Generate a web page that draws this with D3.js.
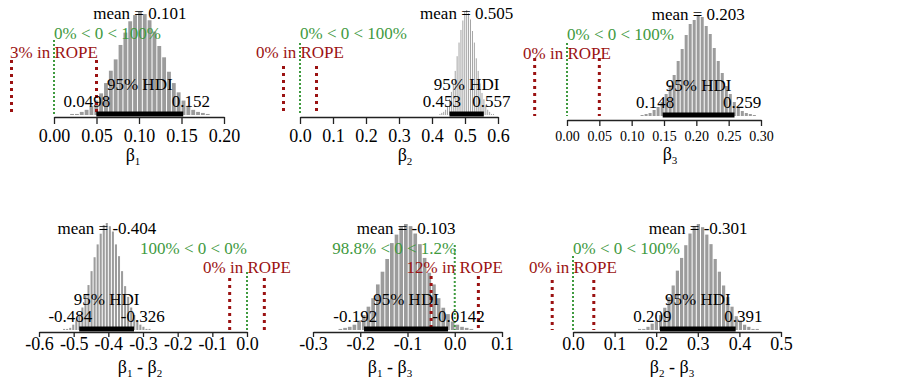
<!DOCTYPE html>
<html>
<head>
<meta charset="utf-8">
<script src="https://cdn.jsdelivr.net/npm/d3@7"></script>
<style>
body { margin: 0; background: #fff; }
svg text { font-family: "Liberation Serif", "DejaVu Serif", "Times New Roman", serif; }
</style>
</head>
<body>
<script>
// ---- data ----
const paramNames = [['1'], ['2'], ['3'], ['1', '2'], ['1', '3'], ['2', '3']]
const meanLabels = ['0.101', '0.505', '0.203', '-0.404', '-0.103', '-0.301']
const hdiLow = [0.0498, 0.453, 0.148, -0.484, -0.192, 0.209]
const hdiHigh = [0.152, 0.557, 0.259, -0.326, -0.0142, 0.391]
const pctBelow = ['0', '0', '0', '100', '98.8', '0']
const pctAbove = ['100', '100', '100', '0', '1.2', '100']
const pctInRope = ['3', '0', '0', '0', '12', '0']
const compVal = 0
const rope = [-0.05, 0.05]

const tickSets = [
  [0, 0.05, 0.10, 0.15, 0.20],
  [0, 0.1, 0.2, 0.3, 0.4, 0.5, 0.6],
  [0, 0.05, 0.10, 0.15, 0.20, 0.25, 0.30],
  [-0.6, -0.5, -0.4, -0.3, -0.2, -0.1, 0],
  [-0.3, -0.2, -0.1, 0, 0.1],
  [0, 0.1, 0.2, 0.3, 0.4, 0.5]
]
const tickDecimals = [2, 1, 2, 1, 1, 1]

// histogram bins: left edge of first bin, bin width, bar heights (% of tallest)
const binStarts = [0.0184, 0.421, 0.113, -0.532, -0.247, 0.155]
const binWidths = [0.0057, 0.0058, 0.0062, 0.0088, 0.0099, 0.0101]
const binCounts = [
  [1, 1, 3, 5, 9, 14, 21, 31, 43, 54, 68, 80, 91, 97, 100, 98, 92, 81, 67, 56, 42, 31, 22, 14, 9, 5, 3, 2, 1],
  [1, 2, 3, 5, 8, 15, 22, 30, 42, 56, 69, 81, 90, 98, 100, 97, 91, 80, 69, 54, 42, 30, 21, 15, 9, 5, 3, 1, 1],
  [1, 2, 3, 6, 9, 14, 22, 31, 41, 55, 67, 81, 92, 96, 100, 99, 90, 82, 68, 55, 43, 30, 22, 14, 8, 5, 3, 2, 1],
  [1, 1, 2, 5, 9, 15, 21, 32, 42, 55, 68, 80, 90, 98, 100, 97, 92, 80, 69, 55, 41, 31, 21, 14, 9, 5, 3, 1, 1],
  [1, 2, 3, 5, 9, 14, 22, 30, 43, 55, 67, 82, 90, 97, 100, 98, 91, 81, 68, 54, 43, 30, 21, 15, 8, 5, 3, 2, 1],
  [1, 1, 3, 6, 9, 14, 21, 31, 42, 56, 68, 80, 91, 98, 100, 97, 90, 81, 67, 55, 42, 31, 22, 13, 9, 5, 3, 1, 1]
]

// ---- layout (pixels) ----
const layout = [
  { x0: 54, x1: 224, base: 115, peak: 12, axisY: 117, tickSize: 7, pad: 5, tickFont: 18, titleX: 133, titleY: 161, greenTop: 40, redTop: 60 },
  { x0: 300, x1: 498, base: 115, peak: 10, axisY: 117, tickSize: 7, pad: 5, tickFont: 18, titleX: 405, titleY: 161, greenTop: 43, redTop: 66 },
  { x0: 567, x1: 761, base: 116, peak: 16, axisY: 120, tickSize: 6, pad: 5, tickFont: 14, titleX: 670, titleY: 160, greenTop: 43, redTop: 58 },
  { x0: 39, x1: 247, base: 330, peak: 223, axisY: 332, tickSize: 5, pad: 0, tickFont: 18, titleX: 140, titleY: 373, greenTop: 272, redTop: 278 },
  { x0: 313, x1: 502, base: 330, peak: 224, axisY: 332, tickSize: 5, pad: 0, tickFont: 18, titleX: 390, titleY: 373, greenTop: 245, redTop: 276 },
  { x0: 573, x1: 781, base: 330, peak: 224, axisY: 332, tickSize: 5, pad: 0, tickFont: 18, titleX: 672, titleY: 373, greenTop: 256, redTop: 280 }
]

const barCol = '#9c9c9c'
const green = '#3f9a3f'
const red = '#9b1212'

const svg = d3.select(document.body).append('svg')
  .attr('width', 903)
  .attr('height', 383)
  .attr('xmlns', 'http://www.w3.org/2000/svg')

svg.append('rect').attr('width', 903).attr('height', 383).attr('fill', '#fff')

function drawPanel (i) {
  const L = layout[i]
  const ticks = tickSets[i]
  const x = d3.scaleLinear([ticks[0], ticks[ticks.length - 1]], [L.x0, L.x1])
  const y = d3.scaleLinear([0, 100], [L.base, L.peak])
  const g = svg.append('g')

  // histogram
  const bins = binCounts[i].map((c, k) => ({ lo: binStarts[i] + k * binWidths[i], c }))
  const bwPx = x(binWidths[i]) - x(0)
  g.selectAll('rect.bar').data(bins).join('rect')
    .attr('class', 'bar')
    .attr('x', d => x(d.lo) + 0.5)
    .attr('width', Math.max(bwPx - 1, 0.7))
    .attr('y', d => y(d.c))
    .attr('height', d => y(0) - y(d.c))
    .attr('fill', barCol)

  // comparison value line (green) and ROPE lines (red)
  g.append('line')
    .attr('x1', x(compVal)).attr('x2', x(compVal))
    .attr('y1', L.greenTop).attr('y2', L.base)
    .attr('stroke', green).attr('stroke-width', 2)
    .attr('stroke-dasharray', '2,2')
  g.selectAll('line.rope').data(rope).join('line')
    .attr('class', 'rope')
    .attr('x1', d => x(d)).attr('x2', d => x(d))
    .attr('y1', L.redTop).attr('y2', L.base)
    .attr('stroke', red).attr('stroke-width', 3)
    .attr('stroke-dasharray', '3,4')

  // HDI bar
  g.append('line')
    .attr('x1', x(hdiLow[i])).attr('x2', x(hdiHigh[i]))
    .attr('y1', L.base - 1).attr('y2', L.base - 1)
    .attr('stroke', '#000').attr('stroke-width', 5)

  // axis
  const fmt = d => d.toFixed(tickDecimals[i])
  const ax = g.append('g')
    .attr('transform', `translate(0,${L.axisY})`)
    .call(d3.axisBottom(x).tickValues(ticks).tickFormat(fmt)
      .tickSize(L.tickSize).tickSizeOuter(0).tickPadding(L.pad))
  ax.selectAll('path, line').attr('stroke', '#222').attr('stroke-width', 1.3)
  ax.attr('font-family', null).attr('font-size', null)
  ax.selectAll('text')
    .attr('font-size', L.tickFont)
    .attr('fill', '#000')

  // axis title: beta with subscripts
  const t = g.append('text')
    .attr('x', L.titleX).attr('y', L.titleY)
    .attr('text-anchor', 'middle')
    .attr('font-size', 18)
  paramNames[i].forEach((s, k) => {
    if (k > 0) t.append('tspan').attr('dy', -4).text(' - ')
    t.append('tspan').attr('dy', k > 0 ? 0 : null).text('β')
    t.append('tspan').attr('font-size', 11).attr('dy', 4).text(s)
  })

  // annotations
  const meanX = (hdiLow[i] + hdiHigh[i]) / 2
  const mean = +meanLabels[i] * (i === 5 ? -1 : 1)
  const txt = (px, py, s, col, anchor) => g.append('text')
    .attr('x', px).attr('y', py)
    .attr('text-anchor', anchor || 'middle')
    .attr('font-size', 17)
    .attr('fill', col)
    .text(s)

  txt(x(mean), L.base - 96, 'mean = ' + meanLabels[i], '#000')

  const frac = +pctBelow[i] / 100
  const cmp = txt(x(compVal), L.base - 76, `${pctBelow[i]}% < 0 < ${pctAbove[i]}%`, green, 'start')
  const w = cmp.node().getComputedTextLength()
  cmp.attr('x', x(compVal) - frac * w)

  txt(x((rope[0] + rope[1]) / 2), L.base - 57, `${pctInRope[i]}% in ROPE`, red)

  txt(x(meanX), L.base - 25, '95% HDI', '#000')

  const lo = txt(0, L.base - 8, String(hdiLow[i]), '#000', 'start')
  const wl = lo.node().getComputedTextLength()
  lo.attr('x', x(hdiLow[i]) - 0.7 * wl)
  const hi = txt(0, L.base - 8, String(hdiHigh[i]), '#000', 'start')
  const wh = hi.node().getComputedTextLength()
  hi.attr('x', x(hdiHigh[i]) - 0.3 * wh)
}

for (let i = 0; i < 6; i++) drawPanel(i)
</script>
</body>
</html>
